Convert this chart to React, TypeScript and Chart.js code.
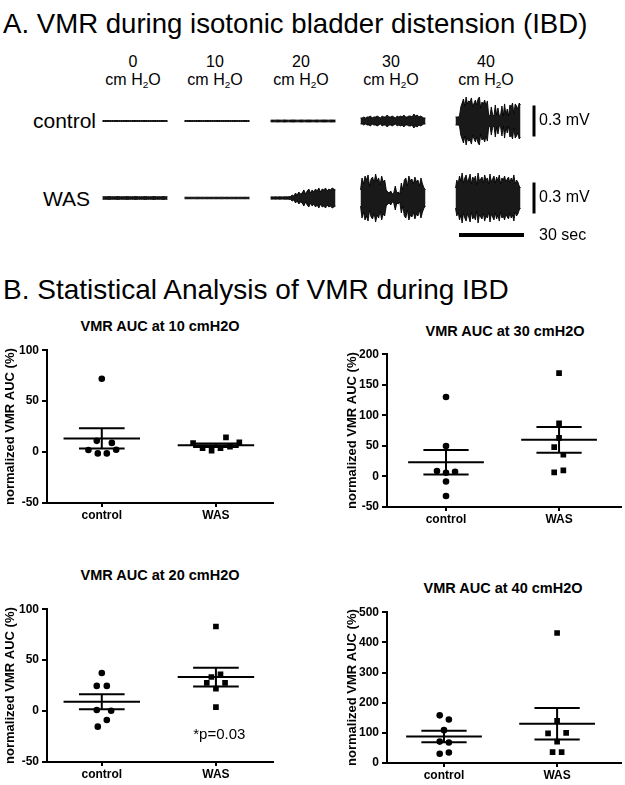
import React, { useEffect, useRef } from "react";
import { Chart, registerables } from "chart.js";

Chart.register(...registerables);

const FONT = '"Liberation Sans", Arial, Helvetica, sans-serif';

// ---------------- Part A: EMG traces (envelope peak amplitudes, mV) ----------------
const PRESSURE_LABELS = ["0", "10", "20", "30", "40"];
const ROW_LABELS = ["control", "WAS"];
const SWEEP_SEC = 30;
const SCALE_BAR_MV = 0.3;
const SCALE_BAR_SEC = 30;

const CONTROL_0CM = [
  0.004, 0.005, 0.004, 0.004, 0.005, 0.004, 0.005, 0.004, 0.004, 0.005, 0.004, 0.005, 0.004, 0.004, 0.005,
  0.004, 0.005, 0.004, 0.004, 0.005, 0.004, 0.005, 0.004, 0.004, 0.005, 0.004, 0.005, 0.004, 0.004, 0.005,
];
const CONTROL_10CM = [
  0.005, 0.004, 0.004, 0.005, 0.004, 0.005, 0.004, 0.005, 0.004, 0.004, 0.005, 0.004, 0.005, 0.004, 0.004,
  0.005, 0.004, 0.005, 0.004, 0.004, 0.005, 0.004, 0.005, 0.004, 0.004, 0.005, 0.004, 0.005, 0.004, 0.005,
];
const CONTROL_20CM = [
  0.008, 0.009, 0.008, 0.01, 0.009, 0.008, 0.01, 0.009, 0.008, 0.009, 0.01, 0.009, 0.008, 0.009, 0.01,
  0.008, 0.009, 0.01, 0.009, 0.008, 0.009, 0.01, 0.008, 0.009, 0.01, 0.009, 0.008, 0.01, 0.009, 0.009,
];
const CONTROL_30CM = [
  0.029, 0.029, 0.039, 0.029, 0.039, 0.039, 0.048, 0.029, 0.039, 0.039, 0.048, 0.039, 0.029, 0.048,
  0.039, 0.039, 0.058, 0.039, 0.039, 0.048, 0.039, 0.029, 0.048, 0.039, 0.048, 0.039, 0.058, 0.039,
  0.039, 0.048, 0.048, 0.039, 0.068, 0.048, 0.058, 0.039, 0.048, 0.039, 0.029, 0.029,
];
const CONTROL_40CM = [
  0.039, 0.039, 0.039, 0.048, 0.136, 0.174, 0.213, 0.145, 0.232, 0.165, 0.194, 0.184, 0.223, 0.136,
  0.174, 0.203, 0.155, 0.213, 0.232, 0.126, 0.184, 0.165, 0.203, 0.145, 0.194, 0.058, 0.048, 0.136,
  0.058, 0.048, 0.155, 0.058, 0.126, 0.048, 0.058, 0.145, 0.048, 0.165, 0.058, 0.116, 0.048, 0.155,
  0.136, 0.174, 0.068, 0.165, 0.145, 0.116, 0.174, 0.155,
];
const WAS_0CM = [
  0.012, 0.013, 0.012, 0.014, 0.013, 0.012, 0.013, 0.014, 0.012, 0.013, 0.012, 0.014, 0.013, 0.012, 0.013,
  0.014, 0.012, 0.013, 0.012, 0.014, 0.013, 0.012, 0.013, 0.014, 0.012, 0.013, 0.012, 0.014, 0.013, 0.012,
];
const WAS_10CM = [
  0.007, 0.008, 0.007, 0.008, 0.007, 0.008, 0.008, 0.007, 0.008, 0.007, 0.008, 0.007, 0.008, 0.007, 0.008,
  0.007, 0.008, 0.008, 0.007, 0.008, 0.007, 0.008, 0.007, 0.008, 0.007, 0.008, 0.007, 0.008, 0.007, 0.008,
];
const WAS_20CM = [
  0.01, 0.011, 0.01, 0.012, 0.01, 0.011, 0.012, 0.01, 0.011, 0.012, 0.011, 0.013, 0.015, 0.029,
  0.019, 0.048, 0.029, 0.058, 0.039, 0.048, 0.078, 0.039, 0.068, 0.087, 0.048, 0.078, 0.058, 0.087,
  0.068, 0.097, 0.058, 0.087, 0.078, 0.097, 0.068, 0.087, 0.078, 0.097, 0.087, 0.078,
];
const WAS_30CM = [
  0.078, 0.194, 0.136, 0.213, 0.174, 0.223, 0.116, 0.184, 0.203, 0.145, 0.232, 0.165, 0.194, 0.126,
  0.213, 0.155, 0.174, 0.078, 0.058, 0.048, 0.068, 0.039, 0.048, 0.116, 0.048, 0.058, 0.039, 0.145,
  0.078, 0.174, 0.194, 0.116, 0.213, 0.165, 0.184, 0.136, 0.203, 0.155, 0.174, 0.116, 0.194, 0.136,
  0.097, 0.078,
];
const WAS_40CM = [
  0.097, 0.174, 0.136, 0.213, 0.165, 0.242, 0.145, 0.194, 0.223, 0.155, 0.184, 0.232, 0.136, 0.203,
  0.174, 0.213, 0.126, 0.242, 0.165, 0.184, 0.203, 0.145, 0.223, 0.174, 0.194, 0.136, 0.232, 0.155,
  0.184, 0.213, 0.145, 0.203, 0.165, 0.223, 0.136, 0.194, 0.174, 0.213, 0.155, 0.184, 0.203, 0.145,
  0.194, 0.165, 0.223, 0.136, 0.174, 0.155, 0.116, 0.097,
];
const CONTROL_TRACES = [CONTROL_0CM, CONTROL_10CM, CONTROL_20CM, CONTROL_30CM, CONTROL_40CM];
const WAS_TRACES = [WAS_0CM, WAS_10CM, WAS_20CM, WAS_30CM, WAS_40CM];

// ---------------- Part B: normalized VMR AUC (%) ----------------
const GROUP_LABELS = ["control", "WAS"];

const AUC10_CONTROL = [72, 11, 9, 2, -1.3, -1.3, 2.3];
const AUC10_CONTROL_JITTER = [0, -0.044, 0.088, -0.117, -0.035, 0.044, 0.126];
const AUC10_WAS = [8.8, 3.9, 1.3, 3.9, 14.4, 5.2, 9.5];
const AUC10_WAS_JITTER = [-0.2, -0.117, -0.038, 0.04, 0.088, 0.123, 0.205];

const AUC30_CONTROL = [130, 49.7, 8.7, 6, 7.7, -8.2, -32];
const AUC30_CONTROL_JITTER = [0, 0, -0.08, 0, 0.08, 0, 0];
const AUC30_WAS = [169, 87, 63, 48, 35.5, 6.6, 9.8];
const AUC30_WAS_JITTER = [0, 0, 0, -0.043, 0.038, -0.043, 0.038];

const AUC20_CONTROL = [37.3, 24.7, 24.7, 1, 0.3, -8.8, -15.3];
const AUC20_CONTROL_JITTER = [0, -0.044, 0.044, -0.044, 0.082, 0.044, -0.035];
const AUC20_WAS = [83, 33.4, 36, 27.6, 27.6, 22, 3.9];
const AUC20_WAS_JITTER = [0, -0.04, 0.04, -0.08, 0.08, 0, 0];

const AUC40_CONTROL = [158, 144, 109, 71, 68, 30.6, 35];
const AUC40_CONTROL_JITTER = [-0.038, 0.043, 0, -0.038, 0.043, -0.038, 0.043];
const AUC40_WAS = [431, 140, 98, 100, 71, 36, 36];
const AUC40_WAS_JITTER = [0, 0, -0.08, 0.08, 0, -0.04, 0.04];

const P_VALUE_TEXT = "*p=0.03";

// ---------------- layout ----------------
const PX_PER_SEC = 65 / 30;
const PX_PER_MV = 31 / 0.3;
const COLUMN_CENTER_PX = [135, 217, 303, 393, 488];
const VBAR_X_PX = 534;
const TIMEBAR_LEFT_PX = 459;

// each trace: filled band between the positive and negative envelope of the signal
function traceDatasets(traces: number[][]) {
  const out: any[] = [];
  traces.forEach((env, i) => {
    const t0 = COLUMN_CENTER_PX[i] / PX_PER_SEC - SWEEP_SEC / 2;
    const n = env.length;
    const xs = env.map((_, j) => t0 + (j * SWEEP_SEC) / (n - 1));
    out.push({
      data: env.map((a, j) => ({ x: xs[j], y: a })),
      showLine: true,
      borderColor: "rgba(0,0,0,0.9)",
      borderWidth: 1,
      pointRadius: 0,
      tension: 0,
      fill: "+1",
      backgroundColor: "rgba(0,0,0,0.9)",
    });
    out.push({
      data: env.map((a, j) => ({ x: xs[j], y: -a })),
      showLine: true,
      borderColor: "rgba(0,0,0,0.9)",
      borderWidth: 1,
      pointRadius: 0,
      tension: 0,
      fill: false,
    });
  });
  return out;
}

function barDataset(points: { x: number; y: number }[], width: number) {
  return {
    data: points,
    showLine: true,
    borderColor: "#000",
    borderWidth: width,
    borderCapStyle: "butt",
    pointRadius: 0,
    fill: false,
  };
}

function traceRowConfig(traces: number[][], heightPx: number, centerPx: number, withTimeBar: boolean) {
  const vx = VBAR_X_PX / PX_PER_SEC;
  const datasets: any[] = traceDatasets(traces);
  datasets.push(barDataset([{ x: vx, y: -SCALE_BAR_MV / 2 }, { x: vx, y: SCALE_BAR_MV / 2 }], 3));
  if (withTimeBar) {
    const t0 = TIMEBAR_LEFT_PX / PX_PER_SEC;
    const yb = -37 / PX_PER_MV;
    datasets.push(barDataset([{ x: t0, y: yb }, { x: t0 + SCALE_BAR_SEC, y: yb }], 4));
  }
  return {
    type: "scatter",
    data: { datasets },
    options: {
      animation: false,
      responsive: false,
      maintainAspectRatio: false,
      layout: { padding: 0 },
      plugins: { legend: { display: false }, tooltip: { enabled: false }, filler: { propagate: false } },
      scales: {
        x: { type: "linear", display: false, min: 0, max: 625 / PX_PER_SEC },
        y: { type: "linear", display: false, min: -(heightPx - centerPx) / PX_PER_MV, max: centerPx / PX_PER_MV },
      },
    },
  };
}

function stats(v: number[]) {
  const n = v.length;
  const mean = v.reduce((a, b) => a + b, 0) / n;
  const sd = Math.sqrt(v.reduce((a, b) => a + (b - mean) * (b - mean), 0) / (n - 1));
  return { mean, sem: sd / Math.sqrt(n) };
}

function lineDs(points: { x: number; y: number }[]) {
  return { data: points, showLine: true, borderColor: "#000", borderWidth: 2, pointRadius: 0, borderCapStyle: "butt" };
}

function meanSem(cx: number, values: number[]) {
  const { mean, sem } = stats(values);
  const hw = 0.335;
  const cw = 0.2;
  return [
    lineDs([{ x: cx - hw, y: mean }, { x: cx + hw, y: mean }]),
    lineDs([{ x: cx, y: mean - sem }, { x: cx, y: mean + sem }]),
    lineDs([{ x: cx - cw, y: mean + sem }, { x: cx + cw, y: mean + sem }]),
    lineDs([{ x: cx - cw, y: mean - sem }, { x: cx + cw, y: mean - sem }]),
  ];
}

type Panel = {
  control: number[];
  controlJitter: number[];
  was: number[];
  wasJitter: number[];
  yMin: number;
  yMax: number;
  step: number;
  xMin: number;
  xMax: number;
  yAxisW: number;
  xAxisH: number;
  padRight: number;
  note?: { text: string; x: number; y: number };
};

const notePlugin = (note?: { text: string; x: number; y: number }) => ({
  id: "note",
  afterDatasetsDraw(chart: any) {
    if (!note) return;
    const { ctx, scales } = chart;
    ctx.save();
    ctx.font = `15px ${FONT}`;
    ctx.fillStyle = "#000";
    ctx.textAlign = "center";
    ctx.textBaseline = "middle";
    ctx.fillText(note.text, scales.x.getPixelForValue(note.x), scales.y.getPixelForValue(note.y));
    ctx.restore();
  },
});

function panelConfig(p: Panel) {
  const tickFont = { family: FONT, size: 12, weight: "bold" };
  return {
    type: "scatter",
    data: {
      datasets: [
        {
          data: p.control.map((v, i) => ({ x: 1 + p.controlJitter[i], y: v })),
          pointStyle: "circle",
          pointRadius: 3.3,
          backgroundColor: "#000",
          borderColor: "#000",
          borderWidth: 0,
        },
        {
          data: p.was.map((v, i) => ({ x: 2 + p.wasJitter[i], y: v })),
          pointStyle: "rect",
          pointRadius: 4,
          backgroundColor: "#000",
          borderColor: "#000",
          borderWidth: 0,
        },
        ...meanSem(1, p.control),
        ...meanSem(2, p.was),
      ],
    },
    plugins: [notePlugin(p.note)],
    options: {
      animation: false,
      responsive: false,
      maintainAspectRatio: false,
      layout: { padding: { top: 9, right: p.padRight, left: 0, bottom: 0 } },
      plugins: { legend: { display: false }, tooltip: { enabled: false }, title: { display: false } },
      scales: {
        x: {
          type: "linear",
          min: p.xMin,
          max: p.xMax,
          border: { display: true, color: "#000", width: 2 },
          grid: { display: true, drawOnChartArea: false, drawTicks: true, tickLength: 4, color: "#000", lineWidth: 2 },
          ticks: {
            font: tickFont,
            color: "#000",
            padding: 1,
            autoSkip: false,
            maxRotation: 0,
            callback: (v: number) => (v === 1 ? GROUP_LABELS[0] : v === 2 ? GROUP_LABELS[1] : ""),
          },
          afterBuildTicks: (s: any) => {
            s.ticks = [{ value: 1 }, { value: 2 }];
          },
          afterFit: (s: any) => {
            s.height = p.xAxisH;
          },
        },
        y: {
          type: "linear",
          min: p.yMin,
          max: p.yMax,
          border: { display: true, color: "#000", width: 2 },
          grid: { display: true, drawOnChartArea: false, drawTicks: true, tickLength: 5, color: "#000", lineWidth: 2 },
          ticks: { font: tickFont, color: "#000", padding: 3, stepSize: p.step },
          title: {
            display: true,
            text: "normalized VMR AUC (%)",
            color: "#000",
            font: { family: FONT, size: 13, weight: "bold" },
            padding: { top: 3, bottom: 0 },
          },
          afterFit: (s: any) => {
            s.width = p.yAxisW;
          },
        },
      },
    },
  };
}

function ChartBox({ left, top, width, height, makeConfig }: any) {
  const ref = useRef<HTMLCanvasElement>(null);
  useEffect(() => {
    const chart = new Chart(ref.current as HTMLCanvasElement, makeConfig());
    return () => chart.destroy();
  }, []);
  return (
    <div style={{ position: "absolute", left, top, width, height }}>
      <canvas ref={ref} width={width} height={height} style={{ width, height, display: "block" }} />
    </div>
  );
}

function Txt({ x, y, size, weight = "normal", anchor = "left", children }: any) {
  const tx = anchor === "left" ? "0" : anchor === "center" ? "-50%" : "-100%";
  return (
    <div
      style={{
        position: "absolute",
        left: x,
        top: y,
        fontFamily: FONT,
        fontSize: size,
        fontWeight: weight,
        lineHeight: 1,
        whiteSpace: "nowrap",
        color: "#000",
        transform: `translate(${tx}, -50%)`,
      }}
    >
      {children}
    </div>
  );
}

const PANELS: { key: string; title: string; tx: number; ty: number; box: any; panel: Panel }[] = [
  {
    key: "p10",
    title: "VMR AUC at 10 cmH2O",
    tx: 160,
    ty: 326,
    box: { left: 0, top: 340, width: 280, height: 190 },
    panel: {
      control: AUC10_CONTROL, controlJitter: AUC10_CONTROL_JITTER, was: AUC10_WAS, wasJitter: AUC10_WAS_JITTER,
      yMin: -50, yMax: 100, step: 50, xMin: 0.52, xMax: 2.5, yAxisW: 47, xAxisH: 27, padRight: 7,
    },
  },
  {
    key: "p30",
    title: "VMR AUC at 30 cmH2O",
    tx: 505,
    ty: 331,
    box: { left: 342, top: 344, width: 283, height: 190 },
    panel: {
      control: AUC30_CONTROL, controlJitter: AUC30_CONTROL_JITTER, was: AUC30_WAS, wasJitter: AUC30_WAS_JITTER,
      yMin: -50, yMax: 200, step: 50, xMin: 0.478, xMax: 2.548, yAxisW: 45, xAxisH: 27, padRight: 0,
    },
  },
  {
    key: "p20",
    title: "VMR AUC at 20 cmH2O",
    tx: 160,
    ty: 575,
    box: { left: 0, top: 599, width: 280, height: 186 },
    panel: {
      control: AUC20_CONTROL, controlJitter: AUC20_CONTROL_JITTER, was: AUC20_WAS, wasJitter: AUC20_WAS_JITTER,
      yMin: -50, yMax: 100, step: 50, xMin: 0.52, xMax: 2.5, yAxisW: 47, xAxisH: 23, padRight: 7,
      note: { text: P_VALUE_TEXT, x: 2.03, y: -23 },
    },
  },
  {
    key: "p40",
    title: "VMR AUC at 40 cmH2O",
    tx: 503,
    ty: 588,
    box: { left: 342, top: 602, width: 283, height: 183 },
    panel: {
      control: AUC40_CONTROL, controlJitter: AUC40_CONTROL_JITTER, was: AUC40_WAS, wasJitter: AUC40_WAS_JITTER,
      yMin: 0, yMax: 500, step: 100, xMin: 0.496, xMax: 2.565, yAxisW: 45, xAxisH: 22, padRight: 0,
    },
  },
];

const H2O = (
  <>
    cm H<span style={{ fontSize: "0.62em", position: "relative", top: "0.3em" }}>2</span>O
  </>
);

export default function App() {
  return (
    <div style={{ position: "absolute", left: 0, top: 0, width: 625, height: 785, background: "#fff", overflow: "hidden" }}>
      <Txt x={3} y={24} size={27.6}>A. VMR during isotonic bladder distension (IBD)</Txt>
      {PRESSURE_LABELS.map((p, i) => (
        <React.Fragment key={p}>
          <Txt x={COLUMN_CENTER_PX[i] - 2} y={62} size={16} anchor="center">{p}</Txt>
          <Txt x={COLUMN_CENTER_PX[i] - 2} y={80} size={16} anchor="center">{H2O}</Txt>
        </React.Fragment>
      ))}
      <Txt x={96} y={120} size={21} anchor="right">{ROW_LABELS[0]}</Txt>
      <Txt x={90} y={198} size={21} anchor="right">{ROW_LABELS[1]}</Txt>
      <ChartBox left={0} top={76} width={625} height={90} makeConfig={() => traceRowConfig(CONTROL_TRACES, 90, 45, false)} />
      <ChartBox left={0} top={150} width={625} height={100} makeConfig={() => traceRowConfig(WAS_TRACES, 100, 48, true)} />
      <Txt x={539} y={120} size={16}>0.3 mV</Txt>
      <Txt x={539} y={197} size={16}>0.3 mV</Txt>
      <Txt x={539} y={235} size={16}>30 sec</Txt>

      <Txt x={3} y={290} size={28}>B. Statistical Analysis of VMR during IBD</Txt>
      {PANELS.map((p) => (
        <React.Fragment key={p.key}>
          <Txt x={p.tx} y={p.ty} size={14.5} weight="bold" anchor="center">{p.title}</Txt>
          <ChartBox {...p.box} makeConfig={() => panelConfig(p.panel)} />
        </React.Fragment>
      ))}
    </div>
  );
}
